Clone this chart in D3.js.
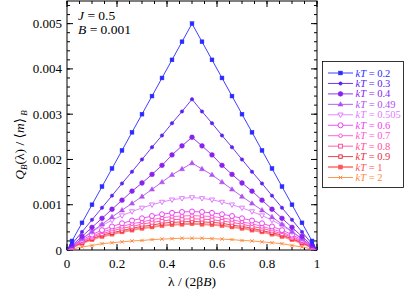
<!DOCTYPE html>
<html><head><meta charset="utf-8">
<script src="https://cdn.jsdelivr.net/npm/d3@7"></script>
<style>body{margin:0;background:#fff}svg{display:block}</style>
</head><body>
<svg id="c" width="408" height="293" font-family="'Liberation Serif','DejaVu Serif','Times New Roman',Times,serif"></svg>
<script>
// λ grid (data points)
const lambdas = [0.02,0.06,0.10,0.14,0.18,0.22,0.26,0.30,0.34,0.38,0.42,0.46,0.50,0.54,0.58,0.62,0.66,0.70,0.74,0.78,0.82,0.86,0.90,0.94,0.98];
const temps = ["0.2","0.3","0.4","0.49","0.505","0.6","0.7","0.8","0.9","1","2"];
const q02  = [0.0002,0.0006,0.001,0.0014,0.0018,0.0022,0.0026,0.003,0.0034,0.0038,0.0042,0.0046,0.005,0.0046,0.0042,0.0038,0.0034,0.003,0.0026,0.0022,0.0018,0.0014,0.001,0.0006,0.0002];
const q03  = [0.000133,0.0004,0.000667,0.000933,0.0012,0.00147,0.00173,0.002,0.00227,0.00253,0.0028,0.00306,0.00333,0.00306,0.0028,0.00253,0.00227,0.002,0.00173,0.00147,0.0012,0.000933,0.000667,0.0004,0.000133];
const q04  = [0.0001,0.0003,0.0005,0.0007,0.0009,0.0011,0.0013,0.00148,0.00167,0.00187,0.0021,0.0023,0.00249,0.0023,0.0021,0.00187,0.00167,0.00148,0.0013,0.0011,0.0009,0.0007,0.0005,0.0003,0.0001];
const q049 = [0.00008,0.00025,0.00041,0.00057,0.00073,0.00088,0.00103,0.00118,0.00134,0.0015,0.00166,0.00179,0.00192,0.00179,0.00166,0.0015,0.00134,0.00118,0.00103,0.00088,0.00073,0.00057,0.00041,0.00025,0.00008];
const q0505= [0.00008,0.00024,0.0004,0.00054,0.00066,0.00076,0.00085,0.00093,0.001,0.00106,0.00111,0.00114,0.00116,0.00114,0.00111,0.00106,0.001,0.00093,0.00085,0.00076,0.00066,0.00054,0.0004,0.00024,0.00008];
const q06  = [0.000077,0.00022,0.00034,0.00044,0.00052,0.00059,0.00065,0.0007,0.00075,0.00079,0.00082,0.00084,0.00085,0.00084,0.00082,0.00079,0.00075,0.0007,0.00065,0.00059,0.00052,0.00044,0.00034,0.00022,0.000077];
const q07  = [0.000068,0.0002,0.0003,0.0004,0.00046,0.00052,0.00058,0.00062,0.00067,0.00071,0.00074,0.00075,0.00076,0.00075,0.00074,0.00071,0.00067,0.00062,0.00058,0.00052,0.00046,0.0004,0.0003,0.0002,0.000068];
const q08  = [0.000062,0.00018,0.00028,0.00036,0.00042,0.00048,0.00052,0.00057,0.00061,0.00064,0.00067,0.00068,0.00069,0.00068,0.00067,0.00064,0.00061,0.00057,0.00052,0.00048,0.00042,0.00036,0.00028,0.00018,0.000062];
const q09  = [0.000057,0.00016,0.00025,0.00033,0.00038,0.00043,0.00048,0.00052,0.00055,0.00059,0.00061,0.00062,0.00063,0.00062,0.00061,0.00059,0.00055,0.00052,0.00048,0.00043,0.00038,0.00033,0.00025,0.00016,0.000057];
const q1   = [0.000052,0.00015,0.00023,0.0003,0.00035,0.0004,0.00044,0.00048,0.00051,0.00054,0.00056,0.00057,0.00058,0.00057,0.00056,0.00054,0.00051,0.00048,0.00044,0.0004,0.00035,0.0003,0.00023,0.00015,0.000052];
const q2   = [0.000023,0.000068,0.0001,0.00014,0.00016,0.00018,0.0002,0.00021,0.00023,0.00024,0.00025,0.00026,0.00026,0.00026,0.00025,0.00024,0.00023,0.00021,0.0002,0.00018,0.00016,0.00014,0.0001,0.000068,0.000023];
const seriesValues = [q02,q03,q04,q049,q0505,q06,q07,q08,q09,q1,q2];
const xTicks = [0,0.2,0.4,0.6,0.8,1];
const xTickLabels = ["0","0.2","0.4","0.6","0.8","1"];
const yTicks = [0,0.001,0.002,0.003,0.004,0.005];
const yTickLabels = ["0","0.001","0.002","0.003","0.004","0.005"];

const styles = [
 {c:"#2a2aff", m:"square", f:true, s:3.8, w:0.9},
 {c:"#5a22ee", m:"circle", f:true, s:1.7, w:0.9},
 {c:"#8a22ee", m:"circle", f:true, s:2.4, w:0.9},
 {c:"#b050f0", m:"tri", f:true, s:4.3, w:0.9},
 {c:"#e07cff", m:"tridown", f:false, s:4.3, w:0.9},
 {c:"#ee3ef0", m:"circle", f:false, s:2.5, w:0.9},
 {c:"#ff55d8", m:"circle", f:false, s:1.8, w:0.9},
 {c:"#ff4c9c", m:"square", f:false, s:3.8, w:0.9},
 {c:"#e83040", m:"square", f:false, s:3.4, w:0.9},
 {c:"#ff5555", m:"square", f:true, s:4.0, w:2, lc:"#ff8f8f"},
 {c:"#ff8a3c", m:"x", f:false, s:3.4, w:0.9}
];

const svg = d3.select("#c");
const L=67, R=317, T=1, B=250;
const x = d3.scaleLinear().domain([0,1]).range([L,R]);
const y = d3.scaleLinear().domain([0,0.0055]).range([B,T]);

svg.append("rect").attr("x",L).attr("y",T).attr("width",R-L).attr("height",B-T)
  .attr("fill","none").attr("stroke","#000").attr("stroke-width",1);

function ticksX(vals, len){
  vals.forEach(v=>{
    svg.append("line").attr("x1",x(v)).attr("x2",x(v)).attr("y1",B).attr("y2",B-len).attr("stroke","#000");
    svg.append("line").attr("x1",x(v)).attr("x2",x(v)).attr("y1",T).attr("y2",T+len).attr("stroke","#000");
  });
}
function ticksY(vals, len){
  vals.forEach(v=>{
    svg.append("line").attr("x1",L).attr("x2",L+len).attr("y1",y(v)).attr("y2",y(v)).attr("stroke","#000");
    svg.append("line").attr("x1",R).attr("x2",R-len).attr("y1",y(v)).attr("y2",y(v)).attr("stroke","#000");
  });
}
ticksX(d3.range(0,1.0001,0.05), 3);
ticksX(xTicks, 6);
ticksY(d3.range(0,0.00541,0.0002), 3);
ticksY(yTicks, 6);

xTicks.forEach((v,i)=>svg.append("text").attr("x",x(v)).attr("y",268).attr("text-anchor","middle")
  .attr("font-size",13).text(xTickLabels[i]));
yTicks.forEach((v,i)=>svg.append("text").attr("x",62).attr("y",y(v)+4.5).attr("text-anchor","end")
  .attr("font-size",13).text(yTickLabels[i]));

svg.append("clipPath").attr("id","cp").append("rect").attr("x",L).attr("y",T).attr("width",R-L).attr("height",B-T);

function marker(g, cx, cy, st){
  const fill = st.f ? st.c : "#fff";
  const s = st.s;
  if(st.m==="square"){
    g.append("rect").attr("x",cx-s/2).attr("y",cy-s/2).attr("width",s).attr("height",s)
     .attr("fill",fill).attr("stroke",st.c).attr("stroke-width",st.f?0.5:1);
  } else if(st.m==="circle"){
    g.append("circle").attr("cx",cx).attr("cy",cy).attr("r",s).attr("fill",fill).attr("stroke",st.c).attr("stroke-width",st.f?0.5:1);
  } else if(st.m==="tri"){
    const h=s*0.9;
    g.append("path").attr("d",`M${cx},${cy-h*0.7}L${cx+s/2+0.4},${cy+h*0.45}L${cx-s/2-0.4},${cy+h*0.45}Z`)
     .attr("fill",fill).attr("stroke",st.c).attr("stroke-width",0.5);
  } else if(st.m==="tridown"){
    const h=s*0.9;
    g.append("path").attr("d",`M${cx},${cy+h*0.7}L${cx+s/2+0.4},${cy-h*0.45}L${cx-s/2-0.4},${cy-h*0.45}Z`)
     .attr("fill",fill).attr("stroke",st.c).attr("stroke-width",1);
  } else if(st.m==="x"){
    const a=s/2;
    g.append("path").attr("d",`M${cx-a},${cy-a}L${cx+a},${cy+a}M${cx-a},${cy+a}L${cx+a},${cy-a}`)
     .attr("stroke",st.c).attr("stroke-width",1);
  }
}

const line = d3.line().x(d=>x(d[0])).y(d=>y(d[1]));
const plot = svg.append("g").attr("clip-path","url(#cp)");
for(let k=seriesValues.length-1;k>=0;k--){
  const st = styles[k];
  const pts = [[0,0]].concat(lambdas.map((l,i)=>[l,seriesValues[k][i]])).concat([[1,0]]);
  const g = plot.append("g");
  g.append("path").attr("d",line(pts)).attr("fill","none").attr("stroke",st.lc||st.c).attr("stroke-width",st.w);
  lambdas.forEach((l,i)=>marker(g, x(l), y(seriesValues[k][i]), st));
}

// legend
const lg = svg.append("g");
lg.append("rect").attr("x",322.5).attr("y",61.5).attr("width",81).attr("height",126).attr("fill","#fff").attr("stroke","#000").attr("stroke-width",0.8);
temps.forEach((t,i)=>{
  const st = styles[i];
  const yy = 73 + i*10.45;
  lg.append("line").attr("x1",328).attr("x2",353).attr("y1",yy).attr("y2",yy).attr("stroke",st.lc||st.c).attr("stroke-width",st.w);
  marker(lg, 340.5, yy, st);
  const tx = lg.append("text").attr("x",355.5).attr("y",yy+3.5).attr("font-size",10.5).attr("fill",st.c);
  tx.append("tspan").attr("font-style","italic").text("kT");
  tx.append("tspan").text(" = "+t);
});

// annotations
const a1 = svg.append("text").attr("x",78).attr("y",20).attr("font-size",13.5);
a1.append("tspan").attr("font-style","italic").text("J");
a1.append("tspan").text(" = 0.5");
const a2 = svg.append("text").attr("x",78).attr("y",34).attr("font-size",13.5);
a2.append("tspan").attr("font-style","italic").text("B");
a2.append("tspan").text(" = 0.001");

// x label
const xl = svg.append("text").attr("x",192).attr("y",286).attr("text-anchor","middle").attr("font-size",13.5);
xl.append("tspan").text("λ / (2β");
xl.append("tspan").attr("font-style","italic").text("B");
xl.append("tspan").text(")");

// y label
const yl = svg.append("text").attr("transform","translate(24,145) rotate(-90)").attr("text-anchor","middle").attr("font-size",13.5);
yl.append("tspan").attr("font-style","italic").text("Q");
yl.append("tspan").attr("font-style","italic").attr("font-size",9).attr("dy",3).text("B");
yl.append("tspan").attr("dy",-3).text("(λ) / ⟨");
yl.append("tspan").attr("font-style","italic").text("m");
yl.append("tspan").text("⟩");
yl.append("tspan").attr("font-style","italic").attr("font-size",9).attr("dy",3).text(" B");
</script>
</body></html>
